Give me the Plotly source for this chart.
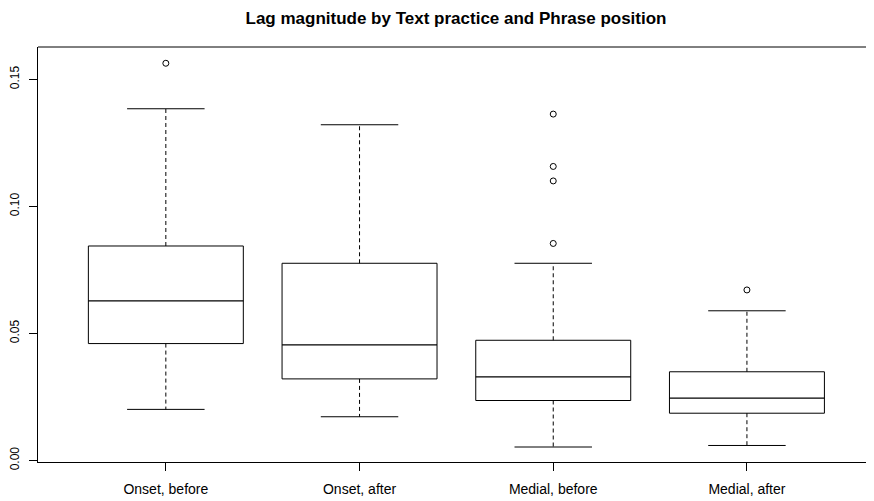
import plotly.graph_objects as go

categories = ["Onset, before", "Onset, after", "Medial, before", "Medial, after"]
lower_whisker = [0.0201, 0.0172, 0.0053, 0.0059]
q1 = [0.0460, 0.0321, 0.0236, 0.0186]
median = [0.0628, 0.0455, 0.0329, 0.0245]
q3 = [0.0844, 0.0776, 0.0473, 0.0349]
upper_whisker = [0.1384, 0.1321, 0.0776, 0.0589]
outliers = [[0.1563], [], [0.1363, 0.1157, 0.1100, 0.0854], [0.0671]]
y_ticks = [0.00, 0.05, 0.10, 0.15]

BOXW = 0.4   # half box width (R boxwex 0.8)
CAPW = 0.2   # half staple width
LINE = dict(color="black", width=1)

# The page body has an 8px default margin; size the figure to compensate.
W, H = 866, 493
L, T, B = 30, 39, 39

fig = go.Figure()
for i, cat in enumerate(categories):
    x = i + 1
    fig.add_trace(go.Scatter(
        x=[x - BOXW, x + BOXW, x + BOXW, x - BOXW, x - BOXW],
        y=[q1[i], q1[i], q3[i], q3[i], q1[i]],
        mode="lines", line=LINE, hoverinfo="skip", showlegend=False))
    fig.add_trace(go.Scatter(
        x=[x - BOXW, x + BOXW], y=[median[i], median[i]],
        mode="lines", line=dict(color="black", width=1.2), showlegend=False))
    fig.add_trace(go.Scatter(
        x=[x, x, None, x, x],
        y=[q3[i], upper_whisker[i], None, q1[i], lower_whisker[i]],
        mode="lines", line=dict(color="black", width=1, dash="4px,3px"),
        showlegend=False))
    fig.add_trace(go.Scatter(
        x=[x - CAPW, x + CAPW, None, x - CAPW, x + CAPW],
        y=[upper_whisker[i], upper_whisker[i], None, lower_whisker[i], lower_whisker[i]],
        mode="lines", line=LINE, showlegend=False))
    if outliers[i]:
        fig.add_trace(go.Scatter(
            x=[x] * len(outliers[i]), y=outliers[i], mode="markers",
            marker=dict(symbol="circle-open", size=6, color="black", line=dict(width=1)),
            showlegend=False))

fig.update_layout(
    width=W, height=H,
    margin=dict(l=L, r=0, t=T, b=B, autoexpand=False),
    plot_bgcolor="white", paper_bgcolor="white",
    font=dict(family="Liberation Sans, Arial, sans-serif", color="black", size=13),
    title=dict(text="<b>Lag magnitude by Text practice and Phrase position</b>",
               x=(L + W) / 2 / W, xanchor="center", y=1, yanchor="top",
               pad=dict(t=4),
               font=dict(size=17, family="Liberation Sans, Arial, sans-serif")),
    xaxis=dict(range=[0.34, 4.656], tickvals=[1, 2, 3, 4], ticktext=categories,
               automargin=False,
               showgrid=False, zeroline=False, showline=True, linecolor="black", linewidth=1,
               ticks="outside", ticklen=8, tickcolor="black", tickfont=dict(size=14),
               ticklabelstandoff=6),
    yaxis=dict(range=[-0.0006, 0.1627], tickvals=y_ticks,
               ticktext=["0.00", "0.05", "0.10", "0.15"], tickangle=-90,
               automargin=False,
               showgrid=False, zeroline=False, showline=True, linecolor="black", linewidth=1,
               ticks="outside", ticklen=8, tickcolor="black", tickfont=dict(size=12),
               ticklabelstandoff=5),
    shapes=[dict(type="line", xref="paper", yref="paper", x0=0, x1=1, y0=1, y1=1,
                 line=dict(color="black", width=1))],
)

fig.write_html("out.html")
